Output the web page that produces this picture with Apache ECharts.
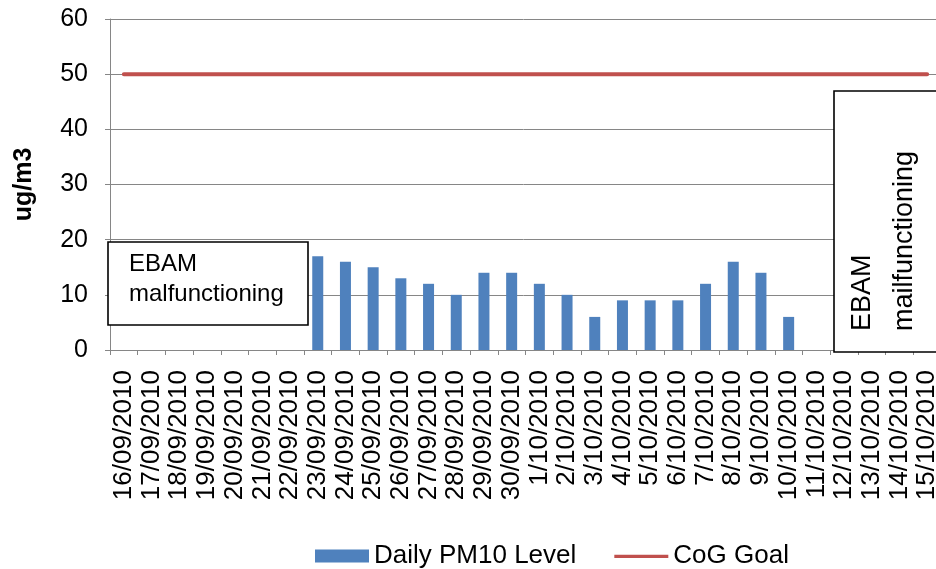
<!DOCTYPE html>
<html>
<head>
<meta charset="utf-8">
<title>Daily PM10 Level</title>
<script type="text/javascript" src="https://cdn.jsdelivr.net/npm/echarts/dist/echarts.min.js"></script>
<style type="text/css">
html, body { margin: 0; padding: 0; background: #fff; }
#main { width: 936px; height: 569px; }
</style>
</head>
<body>
<div id="main"></div>
<script type="text/javascript">

// 日期
var days = ['16/09/2010','17/09/2010','18/09/2010','19/09/2010','20/09/2010','21/09/2010','22/09/2010',
	'23/09/2010','24/09/2010','25/09/2010','26/09/2010','27/09/2010','28/09/2010','29/09/2010','30/09/2010',
	'1/10/2010','2/10/2010','3/10/2010','4/10/2010','5/10/2010','6/10/2010','7/10/2010','8/10/2010','9/10/2010',
	'10/10/2010','11/10/2010','12/10/2010','13/10/2010','14/10/2010','15/10/2010'];

// daily PM10, null = EBAM down
var pm10 = [null, null, null, null, null, null, null,
	17, 16, 15, 13, 12, 10, 14, 14,
	12, 10, 6, 9, 9, 9, 12, 16, 14,
	6, null, null, null, null, null];

var goal = [50,50,50,50,50,50,50,50,50,50,50,50,50,50,50,50,50,50,50,50,50,50,50,50,50,50,50,50,50,50];

var yTicks = [0, 60, 10];   // min, max, interval

var font = 'Liberation Sans, Arial, sans-serif';
var gray = '#868686';

var chart = echarts.init(document.getElementById('main'));

var option = {
	animation: false,
	grid: {
		left: 110,
		right: -5,
		top: 19,
		bottom: 219,
		containLabel: false,
		outerBoundsMode: 'none'
	},
	legend: {
		left: 310,
		top: 538,
		itemWidth: 54,
		itemHeight: 13,
		itemGap: 38,
		textStyle: { fontFamily: font, fontSize: 26, color: '#000' },
		data: [
			{ name: 'Daily PM10 Level', icon: 'rect' },
			// thick line icon, no marker
			{ name: 'CoG Goal', icon: 'path://M0,0M0,4h100v6h-100zM100,13' }
		]
	},
	xAxis: {
		type: 'category',
		data: days,
		boundaryGap: true,
		axisLine: { lineStyle: { color: gray, width: 1 } },
		axisTick: { show: true, length: 5, lineStyle: { color: gray } },
		axisLabel: {
			interval: 0,
			rotate: 90,
			margin: 20,
			fontFamily: font,
			fontSize: 26,
			color: '#000'
		},
		splitLine: { show: false }
	},
	yAxis: {
		type: 'value',
		min: yTicks[0],
		max: yTicks[1],
		interval: yTicks[2],
		name: 'ug/m3',
		nameLocation: 'middle',
		nameGap: 73,
		nameTextStyle: { fontFamily: font, fontSize: 25, fontWeight: 'bold', color: '#000' },
		axisLine: { show: true, lineStyle: { color: gray, width: 1 } },
		axisTick: { show: true, length: 5, lineStyle: { color: gray } },
		axisLabel: { margin: 22, fontFamily: font, fontSize: 25, color: '#000' },
		splitLine: { show: true, lineStyle: { color: gray, width: 1 } }
	},
	series: [
		{
			name: 'Daily PM10 Level',
			type: 'bar',
			data: pm10,
			barWidth: 11,
			itemStyle: { color: '#4F81BD' }
		},
		{
			name: 'CoG Goal',
			type: 'line',
			data: goal,
			symbol: 'none',
			lineStyle: { color: '#C0504D', width: 4, cap: 'round' },
			itemStyle: { color: '#C0504D' }
		}
	],
	graphic: [
		{
			type: 'rect',
			z: 100,
			shape: { x: 108, y: 242, width: 200, height: 83 },
			style: { fill: '#fff', stroke: '#000', lineWidth: 1.6 }
		},
		{
			type: 'text',
			z: 101,
			x: 129,
			y: 249,
			style: {
				text: 'EBAM\nmalfunctioning',
				fontFamily: font,
				fontSize: 24,
				lineHeight: 30,
				fill: '#000',
				textAlign: 'left',
				textVerticalAlign: 'top'
			}
		},
		{
			type: 'rect',
			z: 100,
			shape: { x: 834, y: 91, width: 110, height: 261 },
			style: { fill: '#fff', stroke: '#000', lineWidth: 1.6 }
		},
		{
			type: 'text',
			z: 101,
			x: 842,
			y: 331,
			rotation: Math.PI / 2,
			style: {
				text: 'EBAM\nmailfunctioning',
				fontFamily: font,
				fontSize: 27,
				lineHeight: 42,
				fill: '#000',
				textAlign: 'left',
				textVerticalAlign: 'top'
			}
		}
	]
};

chart.setOption(option);
</script>
</body>
</html>
